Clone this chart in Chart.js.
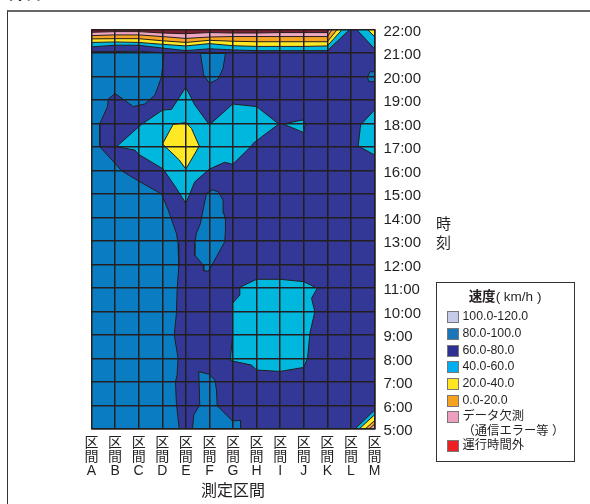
<!DOCTYPE html>
<html lang="ja">
<head>
<meta charset="utf-8">
<title>測定区間 速度</title>
<script src="https://cdn.jsdelivr.net/npm/chart.js@4"></script>
<style>
html,body{margin:0;padding:0;background:#fff;}
#page{position:relative;width:590px;height:504px;overflow:hidden;font-family:"Liberation Sans","Noto Sans CJK JP",sans-serif;color:#231f20;}
#chart{position:absolute;left:0;top:0;}
#frame{position:absolute;left:7px;top:10px;width:600px;height:520px;box-sizing:border-box;border-left:1.5px solid #333;border-top:2px solid #666;}
#heading{position:absolute;left:8px;top:-16px;font-size:17px;font-weight:700;line-height:20px;white-space:nowrap;}
#yname{position:absolute;left:436px;top:215px;font-size:15px;line-height:18.5px;width:16px;}
#legend{position:absolute;left:436px;top:282px;width:139px;height:180px;box-sizing:border-box;border:1.5px solid #333;}
#legend .t{position:absolute;left:-1px;right:0;top:5px;text-align:center;font-size:13.5px;line-height:18px;white-space:nowrap;}
#legend .t b{font-weight:700;}
#legend .i{position:absolute;left:11px;font-size:12.3px;line-height:15px;white-space:nowrap;}
#legend .s{position:absolute;left:0;top:2px;width:10px;height:10px;box-sizing:content-box;border:1px solid #777;margin-left:-1px;}
#legend .l{position:absolute;left:14.5px;top:0;}
</style>
</head>
<body>
<div id="page">
  <div id="frame"></div>
  <div id="heading">昇日</div>
  <canvas id="chart" width="590" height="504"></canvas>
  <div id="yname">時<br>刻</div>
  <div id="legend"><div class="t"><b>速度</b>( km/h )</div></div>
</div>
<script>
// ---- categories and axis labels ----
const sections = ["A","B","C","D","E","F","G","H","I","J","K","L","M"];
const hourFirst = 5;
const hourLast = 22;
const xTitle = "測定区間";
const legendLabels = ["100.0-120.0","80.0-100.0","60.0-80.0","40.0-60.0","20.0-40.0","0.0-20.0",["データ欠測","（通信エラー等 ）"],"運行時間外"];
const legendColors = ["#c5cbe8","#1b75bb","#2e3192","#00aeef","#ffe61e","#f5a21e","#ee9fbf","#ed2024"];

// ---- contour regions: [section index, hour] ----
const whole60 = [[0,5],[12,5],[12,22],[0,22]];
const speed80West = [[0,21.06],[1,21.06],[2,21.08],[3.01,21.01],[3.07,20.99],[2.97,19.99],[2.69,19.21],[2.26,18.83],[1.77,18.72],[1,19.28],[0.71,19.04],[0.68,18.72],[0.35,17.98],[0.35,17.01],[1,16.30],[1.27,15.99],[2.05,15.52],[2.97,15.0],[3.25,14.32],[3.6,13.33],[3.67,12.90],[3.70,11.91],[3.63,10.91],[3.60,9.92],[3.51,9.0],[3.67,8.01],[3.63,7.30],[3.56,7.01],[3.60,6.09],[3.72,5],[0,5]];
const speed80Top = [[4.62,20.98],[4.76,20.06],[5,19.71],[5.37,19.89],[5.58,20.35],[5.68,20.98]];
const speed80M = [[11.7,19.96],[11.8,20.2],[12,20.2],[12,19.78],[11.77,19.78]];
const speed80Mid = [[4.76,11.74],[4.95,11.71],[5.30,12.33],[5.65,12.97],[5.68,13.47],[5.68,13.89],[5.61,14.18],[5.58,14.74],[5.37,15.10],[5.13,15.17],[4.88,15.03],[4.76,14.46],[4.62,13.75],[4.45,13.33],[4.38,12.90],[4.38,12.40],[4.73,11.98]];
const speed80Low = [[4.55,7.44],[4.95,7.34],[5.23,7.09],[5.30,6.66],[5.33,5.99],[5.98,5.34],[6.32,5.37],[6.32,5],[4.28,5],[4.34,5.60],[4.59,6.02]];
const speed40Peak = [[1.06,17.01],[2.09,17.94],[3.01,18.57],[3.39,18.60],[4,19.54],[4.38,18.79],[5,17.94],[5.99,18.83],[7,18.72],[7.94,17.98],[6.86,17.16],[6.78,17.04],[5.99,16.26],[5.65,16.35],[5,16.06],[4.38,15.52],[4,14.60],[3.60,15.24],[3.04,16.06],[1.98,16.70],[1.84,16.87]];
const speed40Sliver = [[8.13,17.98],[8.95,18.15],[9.07,17.98],[8.98,17.62]];
const speed40East = [[12,18.57],[11.41,17.94],[11.31,17.04],[12,16.66]];
const speed40Block = [[6.29,11.03],[7,11.37],[7.99,11.37],[9,11.27],[9.57,10.99],[9.33,10.56],[9.47,9.99],[9.26,9.07],[9.16,8.01],[9,7.62],[7.99,7.45],[7,7.51],[6.78,7.72],[5.89,7.91],[5.98,9.0],[5.98,10.35],[6.29,10.70]];
const speed20Peak = [[3.46,17.96],[4,18.04],[4.24,17.79],[4.57,17.04],[4,16.06],[3.72,16.45],[3.01,17.13]];
const cornerNE40 = [[11.24,22],[12,21.18],[12,22]];
const cornerNE20 = [[11.7,22],[12,21.7],[12,22]];
const cornerSE40 = [[11.17,5],[12,5.8],[12,5]];
const cornerSE20 = [[11.35,5],[12,5.6],[12,5]];
const cornerSE0 = [[11.6,5],[12,5.35],[12,5]];
const cornerSEMissing = [[11.77,5],[12,5.2],[12,5]];

// ---- late-evening bands across A..K: hour of each boundary, and where it meets 22:00 ----
const bandLimit60 = [21.26,21.33,21.33,21.21,21.10,21.18,21.13,21.10,21.10,21.10,21.10];
const bandLimit40 = [21.45,21.47,21.45,21.37,21.30,21.40,21.31,21.28,21.28,21.28,21.30];
const bandLimit20 = [21.60,21.61,21.61,21.52,21.45,21.54,21.50,21.48,21.48,21.48,21.48];
const bandLimit0  = [21.74,21.77,21.77,21.70,21.62,21.68,21.70,21.70,21.70,21.70,21.70];
const bandLimitOut= [21.88,21.91,21.91,21.85,21.82,21.87,21.85,21.85,21.87,21.87,21.87];
const bandCrossing = {limit60:10.95, limit40:10.63, limit20:10.42, limit0:10.2, limitOut:10.08};

const band = (hours, cross) => hours.map((h,i)=>[i,h]).concat([[cross,22],[0,22]]);

const INK = "#231f20";
const C80 = "#0a7dc2", C60 = "#333795", C40 = "#00b7dd", C20 = "#ffe824", C0 = "#f5a322", CM = "#efa6be", CO = "#7d1f2c";

// painted back to front
const layers = [
  [whole60, C60, 0],
  [speed80West, C80], [speed80Top, C80], [speed80M, C80], [speed80Mid, C80], [speed80Low, C80],
  [speed40Peak, C40], [speed40Sliver, C40], [speed40East, C40], [speed40Block, C40],
  [speed20Peak, C20],
  [band(bandLimit60, bandCrossing.limit60), C40],
  [band(bandLimit40, bandCrossing.limit40), C20],
  [band(bandLimit20, bandCrossing.limit20), C0],
  [band(bandLimit0, bandCrossing.limit0), CM],
  [band(bandLimitOut, bandCrossing.limitOut), CO],
  [cornerNE40, C40], [cornerNE20, C20],
  [cornerSE40, C40], [cornerSE20, C20], [cornerSE0, C0], [cornerSEMissing, CM]
];

const datasets = layers.map(([pts, color, bw], i) => ({
  data: pts.concat([pts[0]]).map(([x,y]) => ({x,y})),
  showLine: true,
  fill: 'shape',
  backgroundColor: color,
  borderColor: INK,
  borderWidth: bw === 0 ? 0 : 1,
  pointRadius: 0,
  tension: 0,
  order: layers.length - i
}));

const FONT = '"Liberation Sans","Noto Sans CJK JP",sans-serif';

new Chart(document.getElementById('chart'), {
  type: 'scatter',
  data: { datasets },
  options: {
    responsive: false,
    animation: false,
    events: [],
    layout: { padding: { left: 91.5, right: 165.5, top: 29.5, bottom: 0 } },
    plugins: { legend: { display: false }, tooltip: { enabled: false }, title: { display: false } },
    scales: {
      x: {
        type: 'linear', min: 0, max: sections.length - 1,
        afterFit: s => { s.height = 75; },
        grid: { color: INK, lineWidth: 1.5, z: 1, drawTicks: false },
        border: { color: INK, width: 1.5, z: 1 },
        ticks: {
          stepSize: 1, autoSkip: false, maxRotation: 0, padding: 7, color: INK,
          font: { family: FONT, size: 14, lineHeight: 1.0 },
          callback: v => ["区","間",sections[v]]
        },
        title: { display: true, text: xTitle, color: INK, font: { family: FONT, size: 16 }, padding: { top: 0, bottom: 3 } }
      },
      y: {
        type: 'linear', position: 'right', min: hourFirst, max: hourLast,
        afterFit: s => { s.width = 50; },
        grid: { color: INK, lineWidth: 1.5, z: 1, drawTicks: false },
        border: { color: INK, width: 1.5, z: 1 },
        ticks: {
          stepSize: 1, autoSkip: false, padding: 9, color: INK, labelOffset: 2,
          font: { family: FONT, size: 15 },
          callback: v => v + ":00"
        }
      }
    }
  }
});

// legend panel, built from the named arrays
const lg = document.getElementById('legend');
const rowTops = [26,43,59.5,76,93,109.5,126,155];
legendLabels.forEach((label,i) => {
  const row = document.createElement('div');
  row.className = 'i';
  row.style.top = rowTops[i] + 'px';
  const sw = document.createElement('span');
  sw.className = 's';
  sw.style.background = legendColors[i];
  row.appendChild(sw);
  const tx = document.createElement('span');
  tx.className = 'l';
  tx.innerHTML = Array.isArray(label) ? label.join('<br>') : label;
  row.appendChild(tx);
  lg.appendChild(row);
});
</script>
</body>
</html>
